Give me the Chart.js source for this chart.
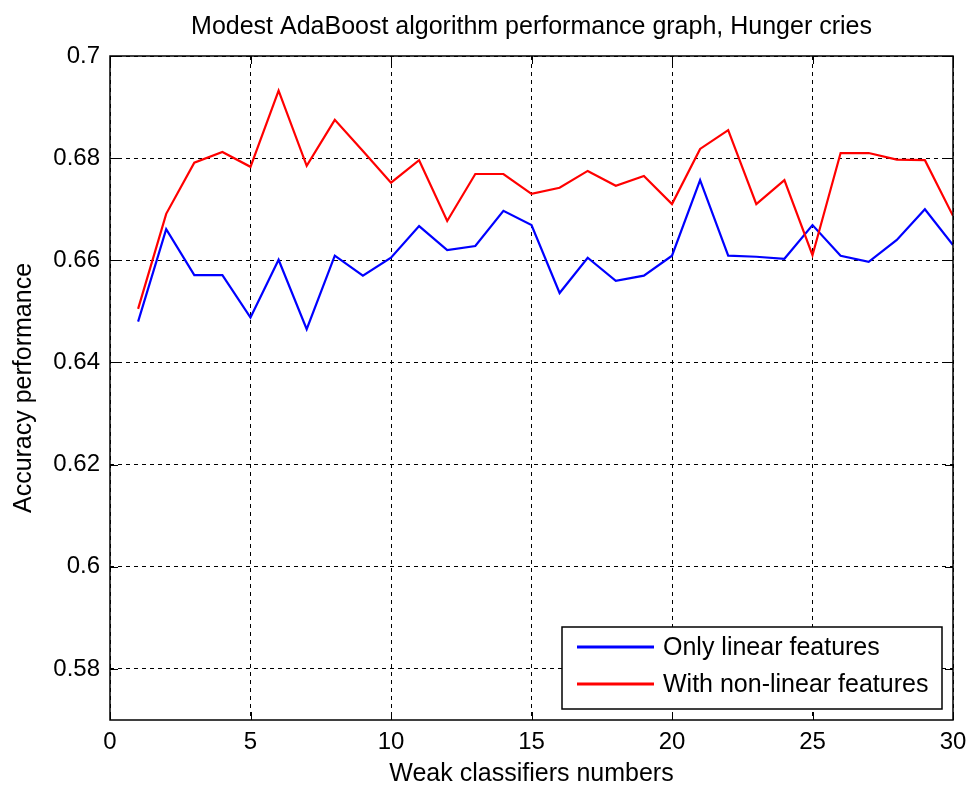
<!DOCTYPE html>
<html>
<head>
<meta charset="utf-8">
<title>Modest AdaBoost performance</title>
<script src="https://cdn.jsdelivr.net/npm/chart.js@4/dist/chart.umd.min.js"></script>
<style>
    html, body { margin: 0; padding: 0; background: #fff; }
    #wrap { width: 969px; height: 789px; }
</style>
</head>
<body>
<div id="wrap"><canvas id="perfChart" width="969" height="789"></canvas></div>
<script>
const classifierCounts = [1, 2, 3, 4, 5, 6, 7, 8, 9, 10, 11, 12, 13, 14, 15,
    16, 17, 18, 19, 20, 21, 22, 23, 24, 25, 26, 27, 28, 29, 30];

const linearOnly = [0.6480, 0.6661, 0.6571, 0.6571, 0.6488, 0.6601, 0.6465, 0.6609, 0.6570, 0.6605,
    0.6667, 0.6620, 0.6628, 0.6697, 0.6669, 0.6536, 0.6605, 0.6560, 0.6570, 0.6609,
    0.6757, 0.6609, 0.6607, 0.6603, 0.6669, 0.6609, 0.6597, 0.6640, 0.6700, 0.6630];

const withNonLinear = [0.6505, 0.6691, 0.6791, 0.6812, 0.6783, 0.6932, 0.6785, 0.6875, 0.6814, 0.6752,
    0.6796, 0.6677, 0.6769, 0.6769, 0.6730, 0.6742, 0.6775, 0.6746, 0.6765, 0.6710,
    0.6818, 0.6855, 0.6710, 0.6757, 0.6610, 0.6810, 0.6810, 0.6797, 0.6796, 0.6687];

const xTicks = [0, 5, 10, 15, 20, 25, 30];
const yTicks = [0.58, 0.6, 0.62, 0.64, 0.66, 0.68, 0.7];

const FONT = '"Liberation Sans", Arial, sans-serif';

function toPoints(values) {
    return classifierCounts.map((x, i) => ({ x: x, y: values[i] }));
}

// box round the plot, inward ticks and the legend inside the lower right corner
const matlabFrame = {
    id: 'matlabFrame',
    afterDatasetsDraw(chart) {
        const { ctx, chartArea: a, scales } = chart;
        ctx.save();
        ctx.strokeStyle = '#000';
        ctx.lineWidth = 1;
        ctx.setLineDash([]);
        ctx.beginPath();
        xTicks.forEach(v => {
            const px = Math.round(scales.x.getPixelForValue(v)) + 0.5;
            ctx.moveTo(px, a.bottom); ctx.lineTo(px, a.bottom - 8);
            ctx.moveTo(px, a.top); ctx.lineTo(px, a.top + 8);
        });
        yTicks.forEach(v => {
            const py = Math.round(scales.y.getPixelForValue(v)) + 0.5;
            ctx.moveTo(a.left, py); ctx.lineTo(a.left + 8, py);
            ctx.moveTo(a.right, py); ctx.lineTo(a.right - 8, py);
        });
        ctx.stroke();
        ctx.lineWidth = 1.5;
        ctx.strokeRect(a.left, a.top, a.right - a.left, a.bottom - a.top);

        // legend
        const w = 380, h = 82;
        const lx = a.right - 11 - w, ly = a.bottom - 11 - h;
        ctx.fillStyle = '#fff';
        ctx.fillRect(lx, ly, w, h);
        ctx.lineWidth = 1.5;
        ctx.strokeRect(lx, ly, w, h);
        ctx.font = '25px ' + FONT;
        ctx.textBaseline = 'middle';
        ctx.textAlign = 'left';
        chart.data.datasets.forEach((ds, i) => {
            const y = ly + 20 + i * 37;
            ctx.strokeStyle = ds.borderColor;
            ctx.lineWidth = 3;
            ctx.beginPath();
            ctx.moveTo(lx + 15, y);
            ctx.lineTo(lx + 92, y);
            ctx.stroke();
            ctx.fillStyle = '#000';
            ctx.fillText(ds.label, lx + 101, y + 1);
        });
        ctx.restore();
    }
};

new Chart(document.getElementById('perfChart'), {
    type: 'line',
    data: {
        datasets: [{
            label: 'Only linear features',
            data: toPoints(linearOnly),
            borderColor: '#0000ff',
            borderWidth: 2.2,
            pointRadius: 0,
            tension: 0,
            order: 1
        }, {
            label: 'With non-linear features',
            data: toPoints(withNonLinear),
            borderColor: '#ff0000',
            borderWidth: 2.2,
            pointRadius: 0,
            tension: 0,
            order: 0
        }]
    },
    options: {
        responsive: false,
        animation: false,
        layout: { padding: { left: 0, right: 16, top: 0, bottom: 0 } },
        plugins: {
            legend: { display: false },
            tooltip: { enabled: false },
            title: {
                display: true,
                text: 'Modest AdaBoost algorithm performance graph, Hunger cries',
                fullSize: false,
                color: '#000',
                font: { family: FONT, size: 25, weight: 'normal' },
                padding: { top: 12, bottom: 14 }
            }
        },
        scales: {
            x: {
                type: 'linear',
                min: 0,
                max: 30,
                afterBuildTicks: scale => { scale.ticks = xTicks.map(v => ({ value: v })); },
                afterFit: scale => {
                    scale.height = 69;
                    scale.paddingLeft = 0;
                    scale.paddingRight = 0;
                },
                grid: {
                    color: '#000',
                    lineWidth: 1,
                    drawTicks: false
                },
                border: { display: false, dash: [4, 4] },
                ticks: {
                    color: '#000',
                    padding: 8,
                    maxRotation: 0,
                    font: { family: FONT, size: 24 },
                    callback: v => String(v)
                },
                title: {
                    display: true,
                    text: 'Weak classifiers numbers',
                    color: '#000',
                    font: { family: FONT, size: 25 },
                    padding: { top: 0, bottom: 0 }
                }
            },
            y: {
                type: 'linear',
                min: 0.57,
                max: 0.7,
                afterBuildTicks: scale => { scale.ticks = yTicks.map(v => ({ value: v })); },
                afterFit: scale => {
                    scale.width = 110;
                    scale.paddingTop = 0;
                    scale.paddingBottom = 0;
                },
                grid: {
                    color: '#000',
                    lineWidth: 1,
                    drawTicks: false
                },
                border: { display: false, dash: [4, 4] },
                ticks: {
                    color: '#000',
                    padding: 10,
                    font: { family: FONT, size: 24 },
                    callback: v => String(v)
                },
                title: {
                    display: true,
                    text: 'Accuracy performance',
                    color: '#000',
                    font: { family: FONT, size: 25 },
                    padding: { top: 9, bottom: 0 }
                }
            }
        }
    },
    plugins: [matlabFrame]
});
</script>
</body>
</html>
